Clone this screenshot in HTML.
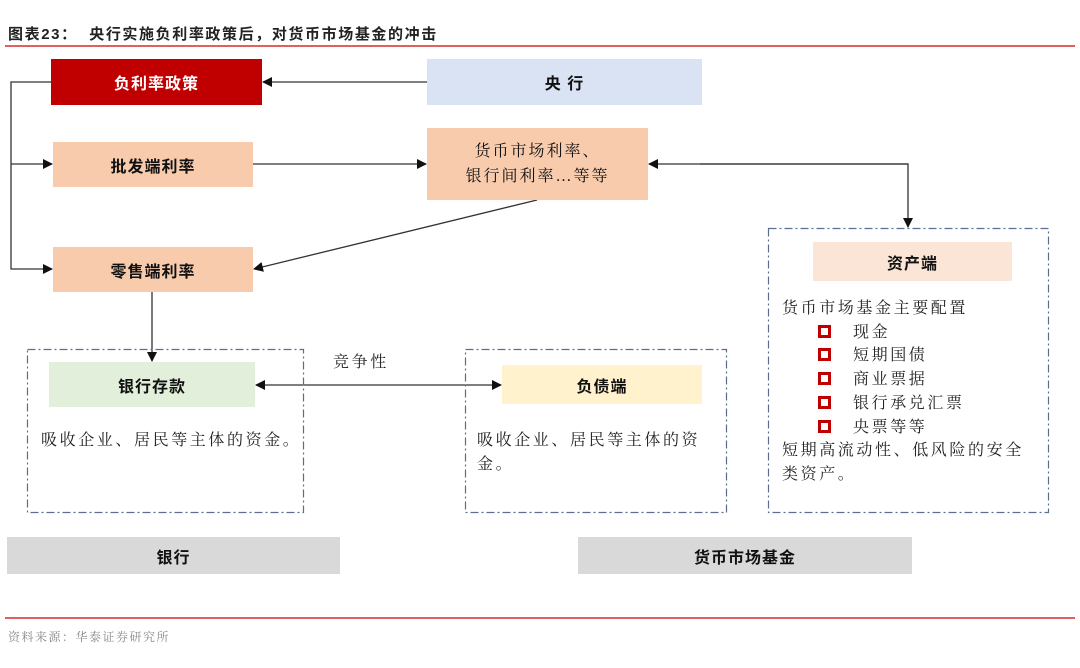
<!DOCTYPE html>
<html><head><meta charset="utf-8">
<style>
*{margin:0;padding:0;box-sizing:border-box}
body{width:1080px;height:668px;background:#fff;position:relative;overflow:hidden;font-family:"Liberation Serif","Noto Serif CJK SC",serif;color:#222}
.b{position:absolute;display:flex;align-items:center;justify-content:center;font-family:"Liberation Sans","Noto Sans CJK SC",sans-serif;font-weight:bold;font-size:16px;color:#111;letter-spacing:1px}
.t{position:absolute;font-family:"Liberation Serif","Noto Serif CJK SC",serif;font-size:16px;line-height:23.7px;white-space:nowrap;letter-spacing:2.6px}
.cb{display:inline-block;width:13px;height:13px;border:3px solid #c00000;margin:0 22px 0 36px;vertical-align:-1px}
</style></head><body>
<div class="t" style="left:8px;top:23px;font-family:'Liberation Sans','Noto Sans CJK SC',sans-serif;font-weight:bold;font-size:15px;letter-spacing:1.6px">图表23：&nbsp; 央行实施负利率政策后，对货币市场基金的冲击</div>
<div style="position:absolute;left:5px;top:45px;width:1070px;height:1.5px;background:#e06060"></div>

<svg style="position:absolute;left:0;top:0" width="1080" height="668">
<defs><marker id="a" markerWidth="10" markerHeight="10" refX="9" refY="5" orient="auto" markerUnits="userSpaceOnUse"><path d="M0,0 L10,5 L0,10 z" fill="#111"/></marker></defs>
<g stroke="#333" stroke-width="1.3" fill="none">
<line x1="427" y1="82" x2="263" y2="82" marker-end="url(#a)"/>
<polyline points="51,82 11,82 11,269 52,269" marker-end="url(#a)"/>
<line x1="11" y1="164" x2="52" y2="164" marker-end="url(#a)"/>
<line x1="253" y1="164" x2="426" y2="164" marker-end="url(#a)"/>
<polyline points="908,164 649,164" marker-end="url(#a)"/>
<polyline points="700,164 908,164 908,227" marker-end="url(#a)"/>
<line x1="537" y1="200" x2="254" y2="269" marker-end="url(#a)"/>
<line x1="152" y1="292" x2="152" y2="361" marker-end="url(#a)"/>
<line x1="380" y1="385" x2="256" y2="385" marker-end="url(#a)"/>
<line x1="380" y1="385" x2="501" y2="385" marker-end="url(#a)"/>
</g>
<g stroke="#5a6f8f" stroke-width="1.2" fill="none" stroke-dasharray="8,3,2,3">
<rect x="27.5" y="349.5" width="276" height="163"/>
<rect x="465.5" y="349.5" width="261" height="163"/>
<rect x="768.5" y="228.5" width="280" height="284"/>
</g>
</svg>

<div class="b" style="left:51px;top:59px;width:211px;height:46px;background:#c00000;color:#fff">负利率政策</div>
<div class="b" style="left:427px;top:59px;width:275px;height:46px;background:#dae3f3">央&nbsp;行</div>
<div class="b" style="left:53px;top:142px;width:200px;height:45px;background:#f8cbad">批发端利率</div>
<div class="b" style="left:427px;top:128px;width:221px;height:72px;background:#f8cbad;font-family:'Liberation Serif','Noto Serif CJK SC',serif;font-weight:normal;font-size:16px;line-height:25px;text-align:center;letter-spacing:2px">货币市场利率、<br>银行间利率…等等</div>
<div class="b" style="left:53px;top:247px;width:200px;height:45px;background:#f8cbad">零售端利率</div>
<div class="b" style="left:49px;top:362px;width:206px;height:45px;background:#e2efda">银行存款</div>
<div class="b" style="left:502px;top:365px;width:200px;height:39px;background:#fff2cc">负债端</div>
<div class="b" style="left:813px;top:242px;width:199px;height:39px;background:#fbe5d6">资产端</div>
<div class="b" style="left:7px;top:537px;width:333px;height:37px;background:#d9d9d9">银行</div>
<div class="b" style="left:578px;top:537px;width:334px;height:37px;background:#d9d9d9">货币市场基金</div>

<div class="t" style="left:333px;top:351px">竞争性</div>
<div class="t" style="left:41px;top:429px">吸收企业、居民等主体的资金。</div>
<div class="t" style="left:477px;top:429px">吸收企业、居民等主体的资<br>金。</div>
<div class="t" style="left:782px;top:297px">货币市场基金主要配置<br><span class="cb"></span>现金<br><span class="cb"></span>短期国债<br><span class="cb"></span>商业票据<br><span class="cb"></span>银行承兑汇票<br><span class="cb"></span>央票等等<br>短期高流动性、低风险的安全<br>类资产。</div>

<div style="position:absolute;left:5px;top:617px;width:1070px;height:1.5px;background:#e06060"></div>
<div class="t" style="left:8px;top:626px;font-size:12px;color:#888;letter-spacing:1.5px">资料来源：华泰证券研究所</div>
</body></html>
